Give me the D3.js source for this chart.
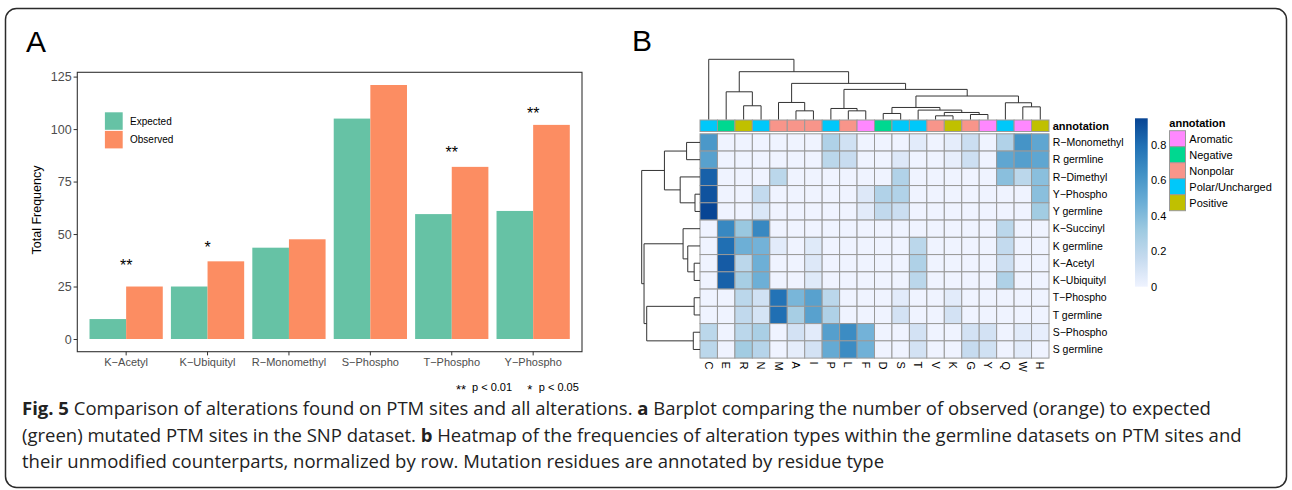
<!DOCTYPE html>
<html>
<head>
<meta charset="utf-8">
<script src="https://cdn.jsdelivr.net/npm/d3@7"></script>
<style>
body { margin: 0; background: #fff; }
text { font-family: "Liberation Sans", Arial, sans-serif; }
.cap { font-family: "Open Sans", "Noto Sans", sans-serif; }
</style>
</head>
<body>
<svg id="main_svg" width="1292" height="490"></svg>
<script>
// panel A data
const ptmTypes = ["K−Acetyl", "K−Ubiquityl", "R−Monomethyl", "S−Phospho", "T−Phospho", "Y−Phospho"]
const expected = [9.5, 25, 43.5, 105, 59.5, 61]
const observed = [25, 37, 47.5, 121, 82, 102]
const stars = ["**", "*", "", "", "**", "**"]
const starPos = [36.7, 45.3, 0, 0, 90.6, 109.2]
const yTicks = [0, 25, 50, 75, 100, 125]
const groups = ["Expected", "Observed"]
const groupColors = ["#66C2A5", "#FC8D62"]

// panel B data
const residues = ["C","E","R","N","M","A","I","P","L","F","D","S","T","V","K","G","Y","Q","W","H"]
const residueType = ["Polar/Uncharged","Negative","Positive","Polar/Uncharged","Nonpolar","Nonpolar","Nonpolar",
  "Polar/Uncharged","Nonpolar","Aromatic","Negative","Polar/Uncharged","Polar/Uncharged","Nonpolar","Positive",
  "Nonpolar","Aromatic","Polar/Uncharged","Aromatic","Positive"]
const typeNames = ["Aromatic", "Negative", "Nonpolar", "Polar/Uncharged", "Positive"]
const typeColors = ["#FF88FF", "#00D890", "#F8958A", "#00C8FA", "#C0C000"]
const sites = ["R−Monomethyl","R germline","R−Dimethyl","Y−Phospho","Y germline","K−Succinyl","K germline",
  "K−Acetyl","K−Ubiquityl","T−Phospho","T germline","S−Phospho","S germline"]
//            C    E    R    N    M    A    I    P    L    F    D    S    T    V    K    G    Y    Q    W    H
const freq = [
  [.60,   0,   0,   0,   0,   0,   0, .25, .12,   0,   0,   0, .05,   0, .04, .14,   0, .24, .62, .52],
  [.55,   0,   0,   0,   0,   0,   0, .20, .15,   0,   0, .07,   0,   0, .03, .13,   0, .52, .56, .52],
  [.85,   0,   0,   0, .20,   0,   0,   0,   0,   0,   0, .24,   0,   0,   0,   0,   0, .38, .20, .38],
  [.90,   0,   0, .17,   0,   0,   0,   0,   0, .07, .24, .24,   0,   0,   0,   0,   0,   0,   0, .38],
  [.95,   0,   0, .08,   0,   0,   0,   0,   0, .05, .18, .14,   0,   0,   0,   0,   0,   0,   0, .30],
  [  0, .68, .33, .68,   0,   0,   0,   0,   0,   0,   0,   0,   0,   0,   0,   0,   0, .20,   0,   0],
  [  0, .80, .47, .45, .05,   0, .06,   0,   0,   0,   0,   0, .20,   0,   0,   0,   0, .17,   0,   0],
  [  0, .87, .20, .47,   0,   0, .07,   0,   0,   0,   0,   0, .25,   0,   0,   0,   0, .13,   0,   0],
  [  0, .85, .28, .47,   0,   0, .06,   0,   0,   0,   0,   0, .20,   0,   0,   0,   0, .25,   0,   0],
  [  0,   0, .20, .12, .78, .43, .55, .20,   0,   0,   0, .05,   0,   0, .05,   0,   0,   0,   0,   0],
  [  0,   0, .18, .10, .80, .28, .55, .25,   0,   0,   0, .11,   0,   0, .11,   0,   0,   0,   0,   0],
  [.20,   0, .20, .27,   0, .11, .05, .56, .66, .45,   0,   0, .11,   0,   0, .11, .11,   0, .05, .03],
  [.20,   0, .30, .22,   0, .04, .11, .50, .66, .46,   0,   0, .11,   0,   0, .16, .12,   0, .05,   0]
]
const blues = ["#EFF3FF","#C6DBEF","#9ECAE1","#6BAED6","#4292C6","#2171B5","#084594"]
const colorMax = 0.95
const colorTicks = [0, 0.2, 0.4, 0.6, 0.8]

// dendrograms: [left, right, height], "#k" points to merge k
const rowMerges = [
  ["R−Monomethyl", "R germline", 0.23],
  ["Y−Phospho", "Y germline", 0.086],
  ["R−Dimethyl", "#1", 0.34],
  ["#0", "#2", 0.61],
  ["K−Acetyl", "K−Ubiquityl", 0.10],
  ["K germline", "#4", 0.21],
  ["K−Succinyl", "#5", 0.29],
  ["T−Phospho", "T germline", 0.10],
  ["S−Phospho", "S germline", 0.115],
  ["#7", "#8", 0.914],
  ["#6", "#9", 0.96],
  ["#3", "#10", 1.0]
]
const colMerges = [
  ["R", "N", 0.228],
  ["E", "#0", 0.46],
  ["A", "I", 0.144],
  ["M", "#2", 0.283],
  ["L", "F", 0.144],
  ["P", "#4", 0.183],
  ["D", "S", 0.10],
  ["V", "K", 0.061],
  ["G", "Y", 0.083],
  ["#7", "#8", 0.117],
  ["T", "#9", 0.156],
  ["#6", "#10", 0.20],
  ["W", "H", 0.21],
  ["Q", "#12", 0.278],
  ["#11", "#13", 0.39],
  ["#5", "#14", 0.50],
  ["#3", "#15", 0.60],
  ["#1", "#16", 0.794],
  ["C", "#17", 1.0]
]

const svg = d3.select("#main_svg")

// outer frame
svg.append("rect")
  .attr("x", 5.5).attr("y", 8.5).attr("width", 1281).attr("height", 479)
  .attr("rx", 11).attr("fill", "none").attr("stroke", "#2b2b2b").attr("stroke-width", 1.5)

// ---------- panel A ----------
svg.append("text").attr("x", 26).attr("y", 52).attr("font-size", 30).text("A")

const x0 = d3.scaleBand().domain(ptmTypes).range([77.3, 582]).paddingInner(0.1).paddingOuter(0.15)
const x1 = d3.scaleBand().domain(groups).range([0, x0.bandwidth()])
const y = d3.scaleLinear().domain([-6.05, 127.05]).range([351.7, 72.3])
const fill = d3.scaleOrdinal().domain(groups).range(groupColors)

const barData = []
ptmTypes.forEach((t, i) => {
  barData.push({type: t, group: "Expected", v: expected[i]})
  barData.push({type: t, group: "Observed", v: observed[i]})
})

const gA = svg.append("g")
gA.selectAll("rect.bar")
  .data(barData)
  .enter()
  .append("rect")
  .attr("class", "bar")
  .attr("x", d => x0(d.type) + x1(d.group))
  .attr("width", x1.bandwidth())
  .attr("y", d => y(d.v))
  .attr("height", d => y(0) - y(d.v))
  .attr("fill", d => fill(d.group))

gA.append("rect")
  .attr("x", 77.3).attr("y", 72.3).attr("width", 582 - 77.3).attr("height", 351.7 - 72.3)
  .attr("fill", "none").attr("stroke", "#333").attr("stroke-width", 1.1)

const yAxis = gA.append("g").attr("transform", "translate(77.3,0)")
  .call(d3.axisLeft(y).tickValues(yTicks).tickSize(3.7).tickPadding(2))
yAxis.select(".domain").remove()
yAxis.selectAll("line").attr("stroke", "#333")
yAxis.selectAll("text").attr("font-size", 12.5).attr("fill", "#4d4d4d")

const xAxis = gA.append("g").attr("transform", "translate(0,351.7)")
  .call(d3.axisBottom(x0).tickSize(3.7).tickPadding(2.5))
xAxis.select(".domain").remove()
xAxis.selectAll("line").attr("stroke", "#333")
xAxis.selectAll("text").attr("font-size", 11).attr("fill", "#4d4d4d")

gA.append("text")
  .attr("transform", "translate(40.5,210) rotate(-90)")
  .attr("text-anchor", "middle").attr("font-size", 12.5).text("Total Frequency")

// significance stars
gA.selectAll("text.star")
  .data(ptmTypes)
  .enter()
  .append("text")
  .attr("class", "star")
  .attr("x", d => x0(d) + x0.bandwidth() / 2)
  .attr("y", (d, i) => y(starPos[i]) + 9)
  .attr("text-anchor", "middle")
  .attr("font-size", 16)
  .text((d, i) => stars[i])

// legend
const leg = gA.append("g")
groups.forEach((gname, i) => {
  leg.append("rect").attr("x", 104.9).attr("y", 112.3 + i * 18.6).attr("width", 17.8).attr("height", 17.5)
    .attr("fill", fill(gname))
  leg.append("text").attr("x", 130).attr("y", 121 + i * 18.6).attr("dy", "0.35em")
    .attr("font-size", 10).text(gname)
})

// p-value note
gA.append("text").attr("x", 461).attr("y", 394).attr("text-anchor", "middle").attr("font-size", 13).text("**")
gA.append("text").attr("x", 472).attr("y", 391).attr("font-size", 11).text("p < 0.01")
gA.append("text").attr("x", 529.7).attr("y", 394).attr("text-anchor", "middle").attr("font-size", 13).text("*")
gA.append("text").attr("x", 538.8).attr("y", 391).attr("font-size", 11).text("p < 0.05")

// ---------- panel B ----------
svg.append("text").attr("x", 632).attr("y", 51).attr("font-size", 30).text("B")

const hx = d3.scaleBand().domain(residues).range([700, 1049])
const hy = d3.scaleBand().domain(sites).range([133.8, 358.1])
const color = d3.scaleLinear()
  .domain(blues.map((c, i) => i * colorMax / (blues.length - 1)))
  .range(blues)
const typeColor = d3.scaleOrdinal().domain(typeNames).range(typeColors)

const cells = []
sites.forEach((s, i) => residues.forEach((r, j) => cells.push({site: s, res: r, v: freq[i][j]})))

const gB = svg.append("g")
gB.selectAll("rect.cell")
  .data(cells)
  .enter()
  .append("rect")
  .attr("class", "cell")
  .attr("x", d => hx(d.res))
  .attr("y", d => hy(d.site))
  .attr("width", hx.bandwidth())
  .attr("height", hy.bandwidth())
  .attr("fill", d => color(d.v))
  .attr("stroke", "#999").attr("stroke-width", 1)

// annotation strip
gB.selectAll("rect.annot")
  .data(residues)
  .enter()
  .append("rect")
  .attr("class", "annot")
  .attr("x", d => hx(d))
  .attr("y", 120)
  .attr("width", hx.bandwidth())
  .attr("height", 11.5)
  .attr("fill", (d, i) => typeColor(residueType[i]))
  .attr("stroke", "#999").attr("stroke-width", 1)

gB.append("text").attr("x", 1052.7).attr("y", 125.8).attr("dy", "0.35em")
  .attr("font-size", 11).attr("font-weight", "bold").text("annotation")

gB.selectAll("text.rowlab")
  .data(sites)
  .enter()
  .append("text")
  .attr("class", "rowlab")
  .attr("x", 1052.7)
  .attr("y", d => hy(d) + hy.bandwidth() / 2)
  .attr("dy", "0.35em")
  .attr("font-size", 10.5)
  .text(d => d)

gB.selectAll("text.collab")
  .data(residues)
  .enter()
  .append("text")
  .attr("class", "collab")
  .attr("transform", d => "translate(" + (hx(d) + hx.bandwidth() / 2) + ",361.5) rotate(90)")
  .attr("dy", "0.35em")
  .attr("font-size", 11)
  .text(d => d)

// dendrograms
function drawTree(merges, leafPos, pt) {
  const pos = [], hts = []
  const node = k => k[0] === "#" ? [pos[+k.slice(1)], hts[+k.slice(1)]] : [leafPos(k), 0]
  let d = ""
  merges.forEach((m, i) => {
    const a = node(m[0]), b = node(m[1])
    pos[i] = (a[0] + b[0]) / 2
    hts[i] = m[2]
    const p1 = pt(a[0], a[1]), p2 = pt(a[0], m[2]), p3 = pt(b[0], m[2]), p4 = pt(b[0], b[1])
    d += "M" + p1 + "L" + p2 + "L" + p3 + "L" + p4
  })
  gB.append("path").attr("d", d).attr("fill", "none").attr("stroke", "#333").attr("stroke-width", 1)
}
const colH = d3.scaleLinear().domain([0, 1]).range([119.5, 59.3])
drawTree(colMerges, r => hx(r) + hx.bandwidth() / 2, (p, h) => [p, colH(h)])
const rowH = d3.scaleLinear().domain([0, 1]).range([700, 641.7])
drawTree(rowMerges, s => hy(s) + hy.bandwidth() / 2, (p, h) => [rowH(h), p])

// colour bar
const cbY = d3.scaleLinear().domain([0, colorMax]).range([286.7, 118.3])
const grad = svg.append("defs").append("linearGradient")
  .attr("id", "cbgrad").attr("x1", 0).attr("y1", 1).attr("x2", 0).attr("y2", 0)
blues.forEach((c, i) => grad.append("stop").attr("offset", i / (blues.length - 1)).attr("stop-color", c))
gB.append("rect")
  .attr("x", 1135).attr("y", cbY(colorMax)).attr("width", 12.7).attr("height", cbY(0) - cbY(colorMax))
  .attr("fill", "url(#cbgrad)")
gB.selectAll("text.cbt")
  .data(colorTicks)
  .enter()
  .append("text")
  .attr("class", "cbt")
  .attr("x", 1151)
  .attr("y", d => cbY(d))
  .attr("dy", "0.35em")
  .attr("font-size", 11)
  .text(d => d === 0 ? "0" : d3.format(".1f")(d))

// annotation legend
gB.append("text").attr("x", 1169.3).attr("y", 123.3).attr("dy", "0.35em")
  .attr("font-size", 11).attr("font-weight", "bold").text("annotation")
gB.selectAll("rect.tl")
  .data(typeNames)
  .enter()
  .append("rect")
  .attr("class", "tl")
  .attr("x", 1169.5)
  .attr("y", (d, i) => 130.7 + i * 16)
  .attr("width", 16).attr("height", 16)
  .attr("fill", d => typeColor(d))
  .attr("stroke", "#999").attr("stroke-width", 1)
gB.selectAll("text.tl")
  .data(typeNames)
  .enter()
  .append("text")
  .attr("class", "tl")
  .attr("x", 1189.3)
  .attr("y", (d, i) => 138.7 + i * 16)
  .attr("dy", "0.35em")
  .attr("font-size", 11)
  .text(d => d)

// ---------- caption ----------
const capLines = [
  [["Fig. 5", true], [" Comparison of alterations found on PTM sites and all alterations. ", false], ["a", true],
   [" Barplot comparing the number of observed (orange) to expected", false]],
  [["(green) mutated PTM sites in the SNP dataset. ", false], ["b", true],
   [" Heatmap of the frequencies of alteration types within the germline datasets on PTM sites and", false]],
  [["their unmodified counterparts, normalized by row. Mutation residues are annotated by residue type", false]]
]
capLines.forEach((line, i) => {
  const t = svg.append("text").attr("class", "cap").attr("x", 22).attr("y", 415 + i * 26.5)
    .attr("font-size", 18.5).attr("fill", "#222")
  line.forEach(seg => t.append("tspan").attr("font-weight", seg[1] ? "bold" : "normal").text(seg[0]))
})
</script>
</body>
</html>
